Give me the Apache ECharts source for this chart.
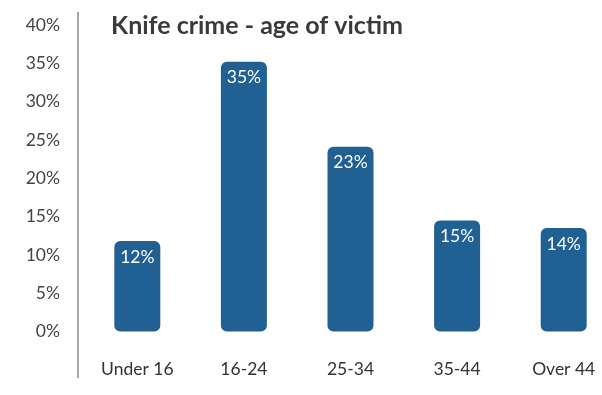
<!DOCTYPE html>
<html>
<head>
<meta charset="utf-8">
<script src="https://cdn.jsdelivr.net/npm/echarts@6/dist/echarts.min.js"></script>
<style>
  html, body { margin: 0; padding: 0; background: #fff; }
  #chart { width: 602px; height: 395px; }
</style>
</head>
<body>
<div id="chart"></div>
<script>
const categories = ['Under 16', '16-24', '25-34', '35-44', 'Over 44']
// bar heights as drawn in the picture (%)
const values = [11.8, 35.2, 24.1, 14.5, 13.5]
// figures printed on the bars
const barLabels = ['12%', '35%', '23%', '15%', '14%']
const yTicks = [0, 5, 10, 15, 20, 25, 30, 35, 40]

const chart = echarts.init(document.getElementById('chart'))

chart.setOption({
  animation: false,
  title: {
    text: 'Knife crime - age of victim',
    left: 106,
    top: 8,
    textStyle: {
      fontFamily: 'Lato',
      fontWeight: 'bold',
      fontSize: 25,
      color: '#3a3a3a'
    }
  },
  graphic: [{
    type: 'line',
    shape: { x1: 78, y1: 12, x2: 78, y2: 378 },
    style: { stroke: '#8a8a8a', lineWidth: 1.5 }
  }],
  grid: {
    left: 84,
    top: 25,
    width: 533,
    height: 306.5,
    outerBoundsMode: 'none'
  },
  xAxis: {
    type: 'category',
    data: categories,
    axisLine: { show: false },
    axisTick: { show: false },
    axisLabel: {
      margin: 29,
      fontFamily: 'Lato',
      fontSize: 17.5,
      color: '#333'
    }
  },
  yAxis: {
    type: 'value',
    min: yTicks[0],
    max: yTicks[yTicks.length - 1],
    interval: 5,
    splitLine: { show: false },
    axisLine: { show: false },
    axisTick: { show: false },
    axisLabel: {
      margin: 24,
      formatter: '{value}%',
      fontFamily: 'Lato',
      fontSize: 17.5,
      color: '#444'
    }
  },
  series: [{
    type: 'bar',
    data: values,
    barWidth: 46,
    itemStyle: {
      color: '#216093',
      borderRadius: 6
    },
    label: {
      show: true,
      position: 'insideTop',
      distance: 7,
      formatter: p => barLabels[p.dataIndex],
      fontFamily: 'Lato',
      fontSize: 17.5,
      color: '#fff'
    }
  }]
})
</script>
</body>
</html>
